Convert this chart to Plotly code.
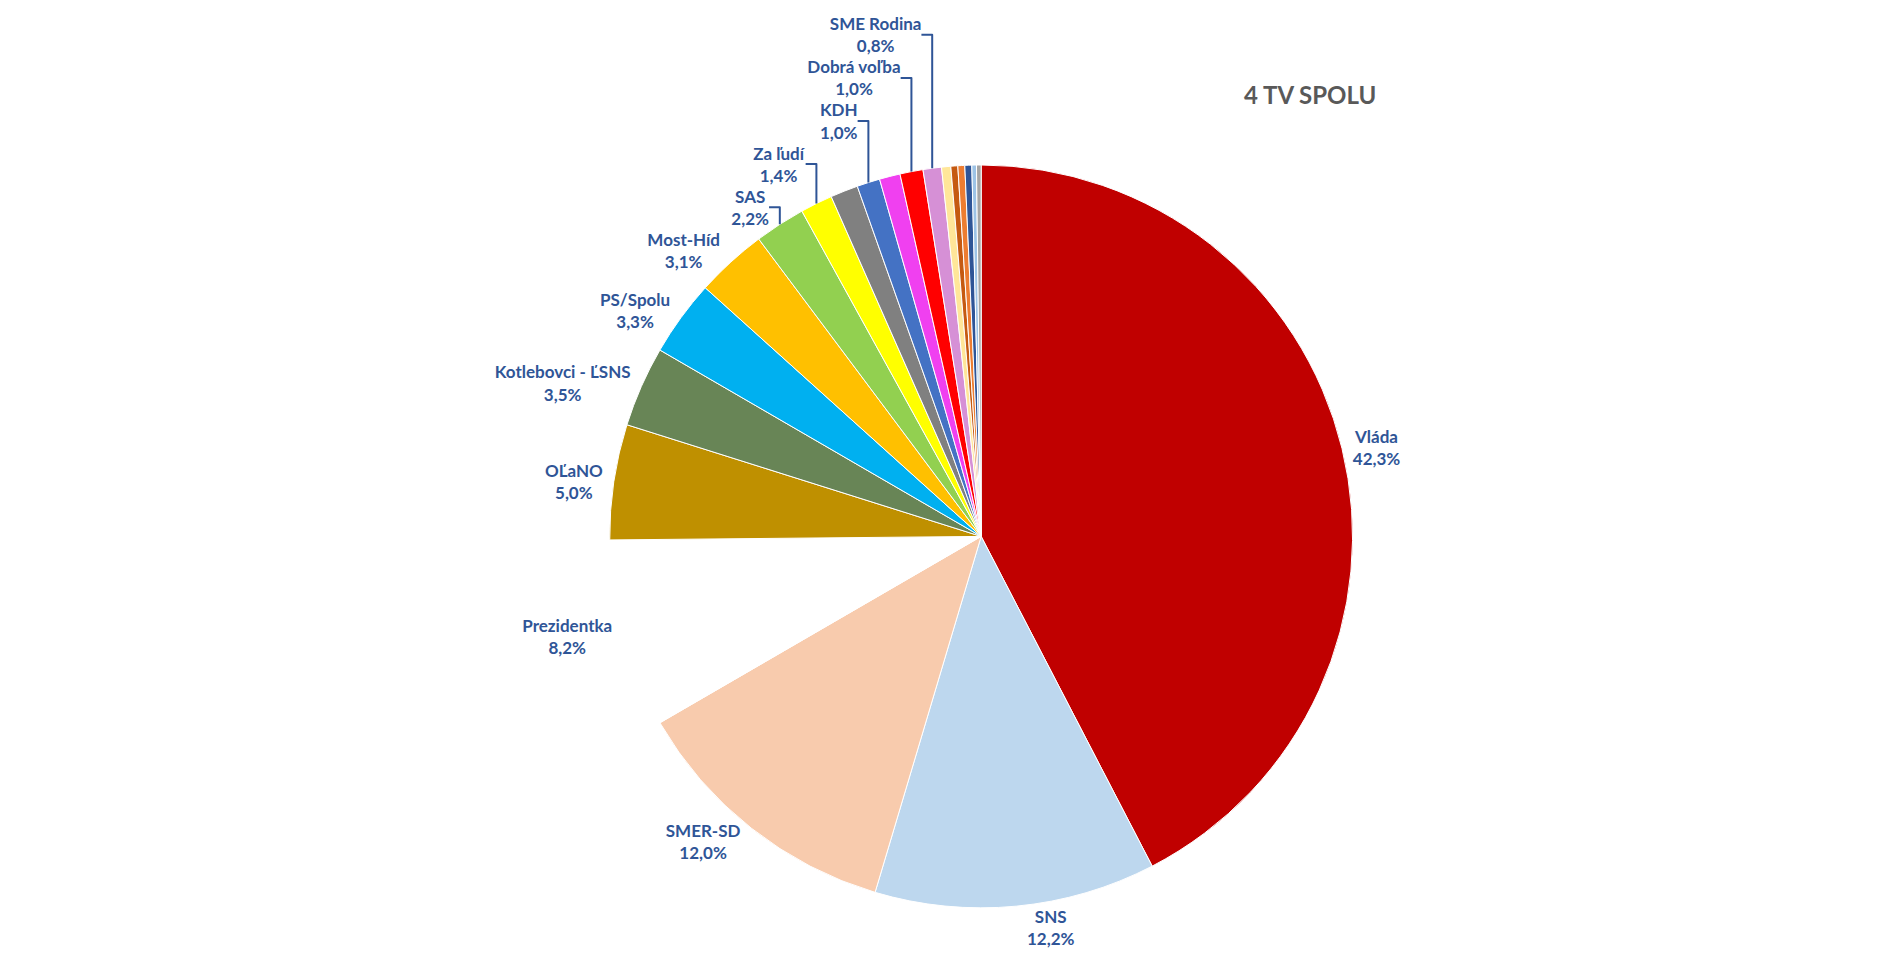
import plotly.graph_objects as go

labels = ['Vláda', 'SNS', 'SMER-SD', 'Prezidentka', 'OĽaNO', 'Kotlebovci - ĽSNS', 'PS/Spolu',
          'Most-Híd', 'SAS', 'Za ľudí', 'Iní 1', 'KDH', 'Iní 2', 'Dobrá voľba', 'SME Rodina',
          'Iní 3', 'Iní 4', 'Iní 5', 'Iní 6', 'Iní 7', 'Iní 8']
values = [42.3, 12.2, 12.0, 8.2, 5.0, 3.5, 3.3, 3.1, 2.2, 1.4, 1.2, 1.0, 0.9, 1.0, 0.8,
          0.4, 0.3, 0.3, 0.3, 0.2, 0.2]
shown = [True] * 10 + [False, True, False, True, True] + [False] * 6
colors = ['#C00000', '#BDD7EE', '#F8CBAD', '#FFFFFF', '#BF9000', '#688556', '#00B0F0',
          '#FFC000', '#92D050', '#FFFF00', '#808080', '#4472C4', '#F040F0', '#FF0000',
          '#D690D6', '#FFE699', '#C55A11', '#ED7D31', '#2F5597', '#9DC3E6', '#A5A5A5']

texts = [f'<b>{l}<br>{v:.1f}%</b>'.replace('.', ',') if s else '' for l, v, s in zip(labels, values, shown)]

fig = go.Figure(go.Pie(
    labels=labels, values=values, text=texts, textinfo='text',
    textposition='outside', sort=False, direction='clockwise', rotation=0,
    marker=dict(colors=colors, line=dict(color='white', width=1)),
    textfont=dict(color='#2F5597', size=17, family='Lato'),
    domain=dict(x=[0, 0.88], y=[0.02, 1.0]),
    showlegend=False, hoverinfo='label+value',
))

fig.update_layout(
    margin=dict(l=0, r=0, t=0, b=0),
    paper_bgcolor='white',
    annotations=[dict(text='<b>4 TV SPOLU</b>', x=0.726, y=1.115,
                      xref='paper', yref='paper', showarrow=False,
                      font=dict(size=24, color='#595959', family='Lato'))],
)

fig.write_html('out.html')
